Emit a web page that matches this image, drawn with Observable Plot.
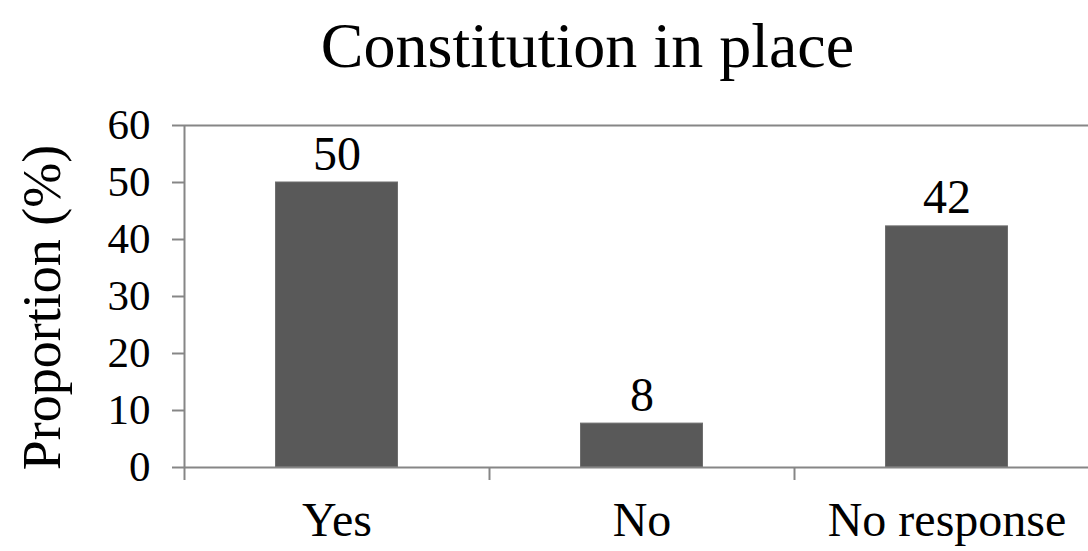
<!DOCTYPE html>
<html>
<head>
<meta charset="utf-8">
<script src="https://cdn.jsdelivr.net/npm/d3@7"></script>
<script src="https://cdn.jsdelivr.net/npm/@observablehq/plot@0.6"></script>
<style>
  html, body { margin: 0; padding: 0; background: #fff; overflow: hidden; }
  #wrap { width: 1088px; height: 551px; position: relative; }
  #title { position: absolute; left: 0; top: 0; width: 1088px; height: 100px; line-height: 92px;
           text-align: center; font-family: "Liberation Serif", "Times New Roman", serif; font-size: 64px; color: #000; padding-left: 87px; box-sizing: border-box; }
  #chart { position: absolute; left: 0; top: 100px; }
</style>
</head>
<body>
<div id="wrap">
  <div id="title">Constitution in place</div>
  <div id="chart"></div>
</div>
<script>
const categories = ["Yes", "No", "No response"];
const values = [50, 7.7, 42.3];
const valueLabels = ["50", "8", "42"];
const yTicks = [0, 10, 20, 30, 40, 50, 60];
const yLabel = "Proportion (%)";

const data = categories.map((c, i) => ({category: c, index: i, value: values[i], label: valueLabels[i]}));
const boundaries = d3.range(categories.length + 1);
const centers = categories.map((c, i) => i + 0.5);

const font = "Liberation Serif, Times New Roman, serif";
const axisColor = "#868686";

const chart = Plot.plot({
  width: 1088,
  height: 451,
  marginTop: 25,
  marginBottom: 84,
  marginLeft: 184,
  marginRight: -11,
  style: {fontFamily: font, background: "#fff", overflow: "visible"},
  x: {type: "linear", domain: [0, categories.length]},
  y: {domain: [0, 60]},
  marks: [
    Plot.rectY(data, {x1: d => d.index + 0.3, x2: d => d.index + 0.7, y: "value", fill: "#595959", stroke: "#6e6e6e", strokeWidth: 1}),
    Plot.ruleY([0, 60], {stroke: axisColor, strokeWidth: 2}),
    Plot.axisY({ticks: yTicks, tickSize: 12, tickPadding: 22, stroke: axisColor, strokeWidth: 2, fontSize: 43, color: "#000", label: null}),
    Plot.ruleX([0], {stroke: axisColor, strokeWidth: 2}),
    Plot.axisX({ticks: boundaries, tickSize: 13, tickFormat: () => "", stroke: axisColor, strokeWidth: 2, label: null}),
    Plot.axisX({ticks: centers, tickSize: 0, tickPadding: 34, tickFormat: d => categories[Math.floor(d)], fontSize: 48, fill: "#000", label: null}),
    Plot.text(data, {x: d => d.index + 0.5, y: "value", text: "label", lineAnchor: "bottom", dy: -13, fontSize: 48, fill: "#000"}),
    Plot.text([yLabel], {frameAnchor: "left", textAnchor: "middle", rotate: -90, dx: -142, dy: 11, fontSize: 54, fill: "#000"})
  ]
});
document.getElementById("chart").appendChild(chart);
</script>
</body>
</html>
